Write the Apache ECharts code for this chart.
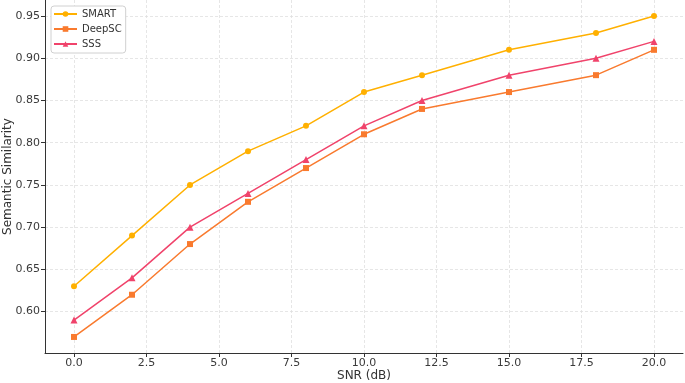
<!DOCTYPE html>
<html><head><meta charset="utf-8">
<script src="https://cdn.jsdelivr.net/npm/echarts@6/dist/echarts.min.js"></script>
<style>html,body{margin:0;padding:0;background:#fff}#c{width:685px;height:383px}</style>
</head><body><div id="c"></div>
<script>
const snr = [0, 2, 4, 6, 8, 10, 12, 15, 18, 20];
const smart = [0.63, 0.69, 0.75, 0.79, 0.82, 0.86, 0.88, 0.91, 0.93, 0.95];
const deepsc = [0.57, 0.62, 0.68, 0.73, 0.77, 0.81, 0.84, 0.86, 0.88, 0.91];
const sss = [0.59, 0.64, 0.70, 0.74, 0.78, 0.82, 0.85, 0.88, 0.90, 0.92];
const xTicks = [0, 2.5, 5, 7.5, 10, 12.5, 15, 17.5, 20];
const yTicks = [0.60, 0.65, 0.70, 0.75, 0.80, 0.85, 0.90, 0.95];

const font = 'DejaVu Sans';
function mk(name, data, color, symbol, size) {
  return {
    name, type: 'line', data: snr.map((x, i) => [x, data[i]]),
    symbol, symbolSize: size, itemStyle: { color },
    lineStyle: { color, width: 1.5 }, animation: false
  };
}
const chart = echarts.init(document.getElementById('c'));
chart.setOption({
  animation: false,
  textStyle: { fontFamily: font },
  grid: { left: 45, right: 2, top: 0, bottom: 30, containLabel: false, outerBoundsMode: 'none' },
  legend: {
    orient: 'vertical', left: 51, top: 6, itemGap: 5,
    itemWidth: 23, itemHeight: 7,
    padding: [3, 4, 4, 2],
    backgroundColor: '#fff', borderColor: '#d0d0d0', borderWidth: 1, borderRadius: 3,
    textStyle: { fontFamily: font, fontSize: 10, color: '#333' },
    data: ['SMART', 'DeepSC', 'SSS']
  },
  xAxis: {
    type: 'value', min: -1, max: 21,
    name: 'SNR (dB)', nameLocation: 'middle', nameGap: 17, nameMoveOverlap: false,
    nameTextStyle: { fontFamily: font, fontSize: 12, color: '#333' },
    axisLine: { onZero: false, lineStyle: { color: '#333', width: 1 } },
    axisTick: { show: true, length: 4, lineStyle: { color: '#333' }, customValues: xTicks },
    axisLabel: { customValues: xTicks, fontSize: 11, color: '#3a3a3a', margin: 5,
      formatter: v => v.toFixed(1) },
    splitLine: { show: true, lineStyle: { color: '#e0e0e0', type: [3, 2], width: 0.8 } }
  },
  yAxis: {
    type: 'value', min: 0.551, max: 0.969,
    name: 'Semantic Similarity', nameLocation: 'middle', nameGap: 31, nameMoveOverlap: false,
    nameTextStyle: { fontFamily: font, fontSize: 12, color: '#333' },
    axisLine: { show: true, onZero: false, lineStyle: { color: '#333', width: 1 } },
    axisTick: { show: true, length: 4, lineStyle: { color: '#333' }, customValues: yTicks },
    axisLabel: { customValues: yTicks, fontSize: 11, color: '#3a3a3a', margin: 5,
      formatter: v => v.toFixed(2) },
    splitLine: { show: true, lineStyle: { color: '#e0e0e0', type: [3, 2], width: 0.8 } }
  },
  series: [
    mk('SMART', smart, '#FFB000', 'circle', 6),
    mk('DeepSC', deepsc, '#F97A2E', 'rect', 6),
    mk('SSS', sss, '#F0436B', 'triangle', 7)
  ]
});
</script></body></html>
